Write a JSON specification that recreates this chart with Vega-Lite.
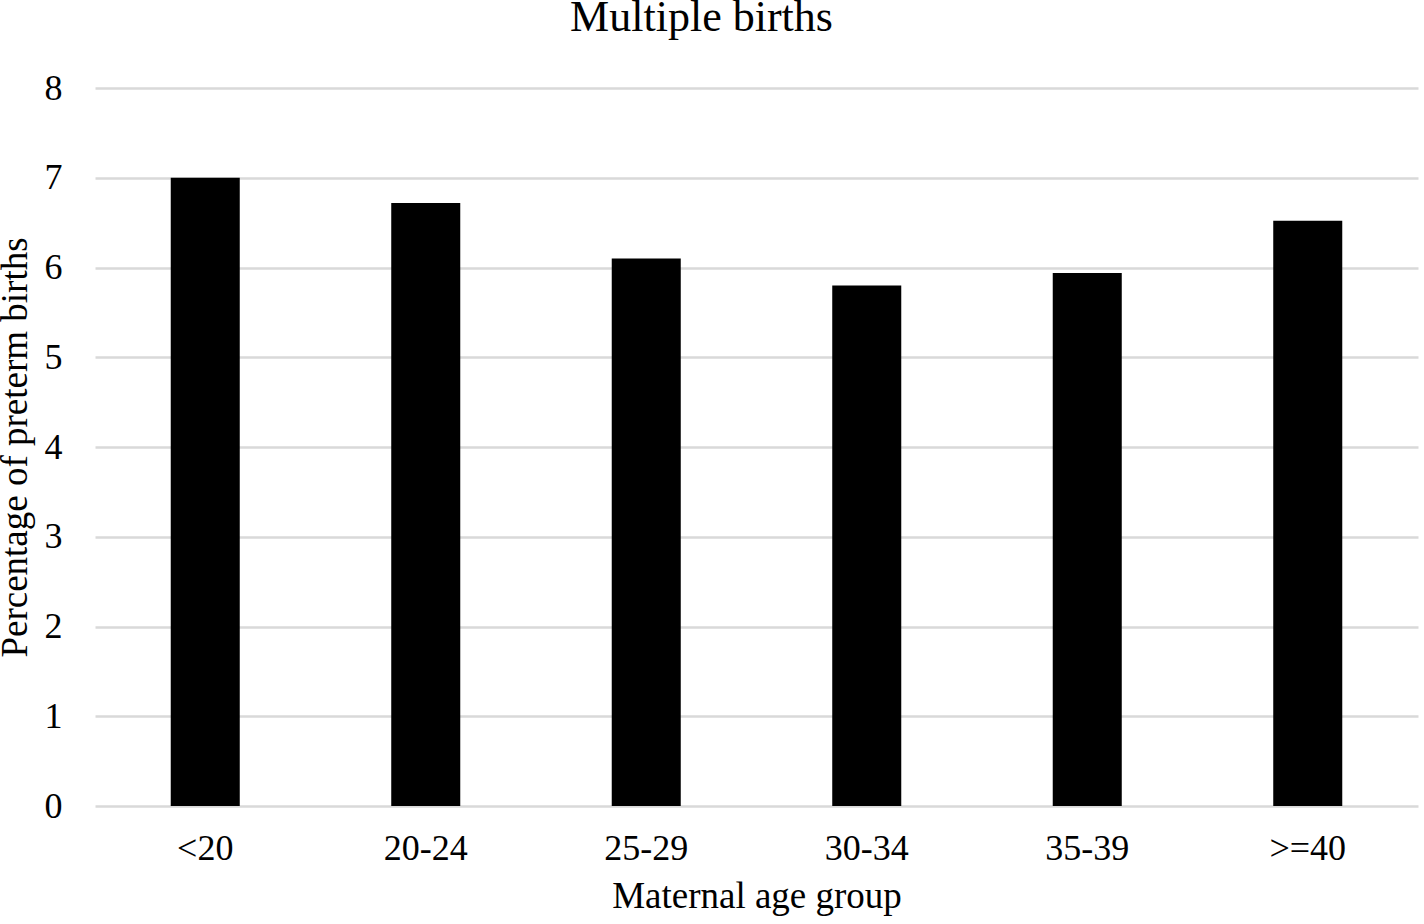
{
  "$schema": "https://vega.github.io/schema/vega-lite/v6.json",
  "autosize": "none",
  "width": 1323,
  "height": 718,
  "padding": {"left": 95, "top": 88, "right": 6, "bottom": 118},
  "background": "white",
  "title": {
    "text": "Multiple births",
    "font": "Liberation Serif",
    "fontSize": 44,
    "fontWeight": "normal",
    "color": "black",
    "anchor": "middle",
    "frame": "group",
    "dx": -55,
    "dy": 5,
    "baseline": "alphabetic",
    "offset": 0
  },
  "config": {
    "view": {"stroke": null},
    "font": "Liberation Serif"
  },
  "data": {
    "values": [
      {"group": "<20", "pct": 7.0},
      {"group": "20-24", "pct": 6.72},
      {"group": "25-29", "pct": 6.1},
      {"group": "30-34", "pct": 5.8},
      {"group": "35-39", "pct": 5.94},
      {"group": ">=40", "pct": 6.52}
    ]
  },
  "mark": {"type": "bar", "color": "black"},
  "encoding": {
    "x": {
      "field": "group",
      "type": "nominal",
      "sort": null,
      "scale": {"paddingInner": 0.687, "paddingOuter": 0.3435},
      "axis": {
        "title": "Maternal age group",
        "titleFont": "Liberation Serif",
        "titleFontSize": 37,
        "titleFontWeight": "normal",
        "titleColor": "black",
        "titlePadding": 12,
        "labelFont": "Liberation Serif",
        "labelFontSize": 36,
        "labelColor": "black",
        "labelAngle": 0,
        "labelPadding": 25,
        "domain": false,
        "ticks": false,
        "grid": false
      }
    },
    "y": {
      "field": "pct",
      "type": "quantitative",
      "scale": {"domain": [0, 8], "nice": false},
      "axis": {
        "title": "Percentage of preterm births",
        "titleFont": "Liberation Serif",
        "titleFontSize": 37,
        "titleFontWeight": "normal",
        "titleColor": "black",
        "titlePadding": 10,
        "labelFont": "Liberation Serif",
        "labelFontSize": 36,
        "labelColor": "black",
        "labelPadding": 33,
        "values": [0, 1, 2, 3, 4, 5, 6, 7, 8],
        "domain": false,
        "ticks": false,
        "grid": true,
        "gridColor": "#d9d9d9",
        "gridWidth": 2.5
      }
    }
  }
}
